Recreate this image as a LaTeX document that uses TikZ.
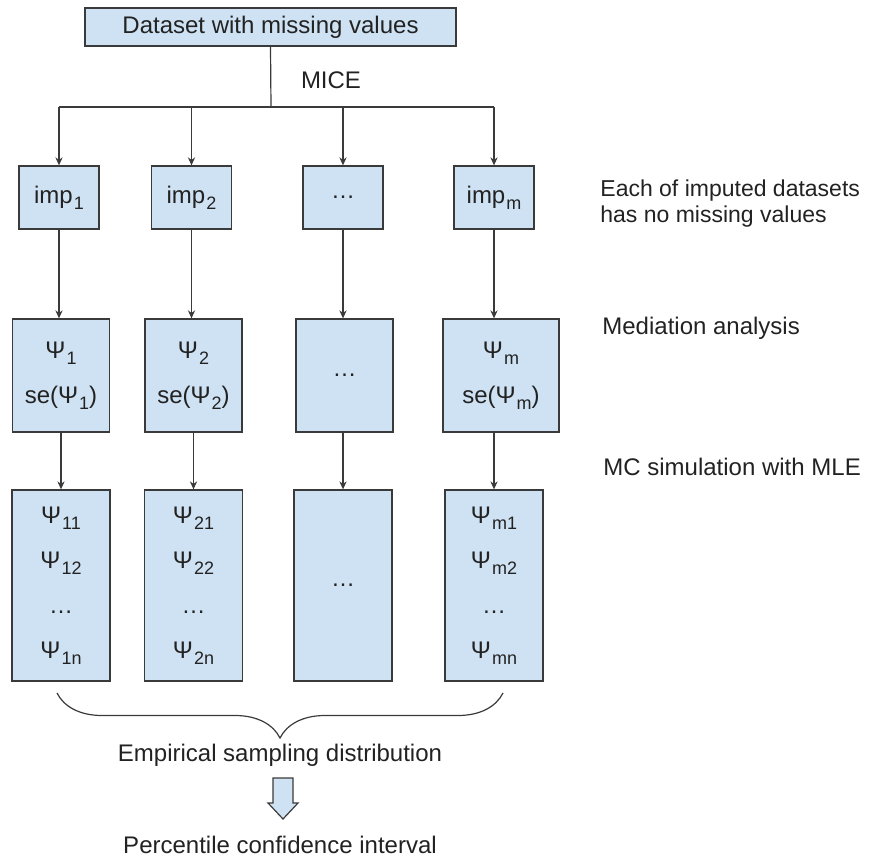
\documentclass[tikz,border=0pt]{standalone}
\usepackage{fontspec}
\setmainfont{Liberation Sans}
\usepackage{xcolor}
\usetikzlibrary{arrows.meta,calc,decorations.pathreplacing}
\definecolor{boxfill}{HTML}{CFE2F3}
\definecolor{boxline}{HTML}{3A3A3A}
\definecolor{inkdark}{HTML}{222222}
\newcommand{\lowsub}[1]{\kern0.5pt\raisebox{-3pt}{\fontsize{9}{9}\selectfont #1}}

\begin{document}
\begin{tikzpicture}[x=0.5pt, y=-0.5pt, >={Stealth[length=4pt,width=3.6pt]},
    font=\fontsize{12}{14}\selectfont, text=inkdark,
    link/.style={draw=boxline, line width=0.6pt},
    box/.style={draw=boxline, fill=boxfill, line width=0.65pt, inner sep=0pt,
      align=center, font=\fontsize{12}{22.5}\selectfont},
    impbox/.style={box, minimum width=40pt, minimum height=31.5pt},
    estbox/.style={box, minimum width=48.5pt, minimum height=56.5pt},
    simbox/.style={box, minimum width=49pt, minimum height=95.5pt},
    note/.style={anchor=west, align=left, inner sep=0pt, font=\fontsize{12}{13}\selectfont}]

  \useasboundingbox (0,0) rectangle (877,861);

  % ================= INPUT =================
  \node[box, minimum width=185.5pt, minimum height=19pt] (data) at (270.5,27)
    {Dataset with missing values};
  \coordinate (split) at (271,107);
  \node (mice) at (331,80) {MICE};

  % ================= IMPUTED DATASETS =================
  \node[impbox] (imp1) at (59,197.5) {imp\lowsub{1}};
  \node[impbox] (imp2) at (191.5,197.5) {imp\lowsub{2}};
  \node[impbox] (impd) at (343,197.5) {…};
  \node[impbox] (impm) at (494,197.5) {imp\lowsub{m}};

  % ================= ESTIMATES =================
  \node[estbox] (est1) at (61,375.5) {Ψ\lowsub{1}\\se(Ψ\lowsub{1})};
  \node[estbox] (est2) at (193.5,375.5) {Ψ\lowsub{2}\\se(Ψ\lowsub{2})};
  \node[estbox] (estd) at (344.5,375.5) {…};
  \node[estbox, minimum width=58pt] (estm) at (501,375.5) {Ψ\lowsub{m}\\se(Ψ\lowsub{m})};

  % ================= MC DRAWS =================
  \node[simbox] (sim1) at (61,585.5) {Ψ\lowsub{11}\\Ψ\lowsub{12}\\…\\Ψ\lowsub{1n}};
  \node[simbox] (sim2) at (193.5,585.5) {Ψ\lowsub{21}\\Ψ\lowsub{22}\\…\\Ψ\lowsub{2n}};
  \node[simbox] (simd) at (343,585.5) {…};
  \node[simbox] (simm) at (494,585.5) {Ψ\lowsub{m1}\\Ψ\lowsub{m2}\\…\\Ψ\lowsub{mn}};

  % Step notes
  \node[note, font=\fontsize{11.5}{13}\selectfont] (noteimp) at (600,204)
    {Each of imputed datasets\\has no missing values};
  \node[note] (notemed) at (602,328) {Mediation analysis};
  \node[note] (notemc) at (603,467) {MC simulation with MLE};

  % Connectors
  \draw[link] (data.south) -- (split);
  \draw[link] (imp1.north |- split) -- (impm.north |- split);
  \foreach \n in {imp1,imp2,impd,impm}
    \draw[link, ->] (\n.north |- split) -- (\n.north);
  \foreach \a/\b in {imp1/est1,imp2/est2,impd/estd,impm/estm}
    \draw[link, ->] (\a.south) -- (\a.south |- \b.north);
  \foreach \a/\b in {est1/sim1,est2/sim2,estd/simd,estm/simm}
    \draw[link, ->] (\b.north |- \a.south) -- (\b.north);

  % ================= POOLING =================
  \draw[link, decorate, decoration={brace, mirror, amplitude=22.5pt}] (57,693) -- (503,693);
  \node (emp) at (280,755) {Empirical sampling distribution};
  \draw[link, fill=boxfill] (273,778) -- (293,778) -- (293,803) -- (298,803) -- (283,819)
    -- (268,803) -- (273,803) -- cycle;
  \node (pci) at (280,845) {Percentile confidence interval};

\end{tikzpicture}
\end{document}
